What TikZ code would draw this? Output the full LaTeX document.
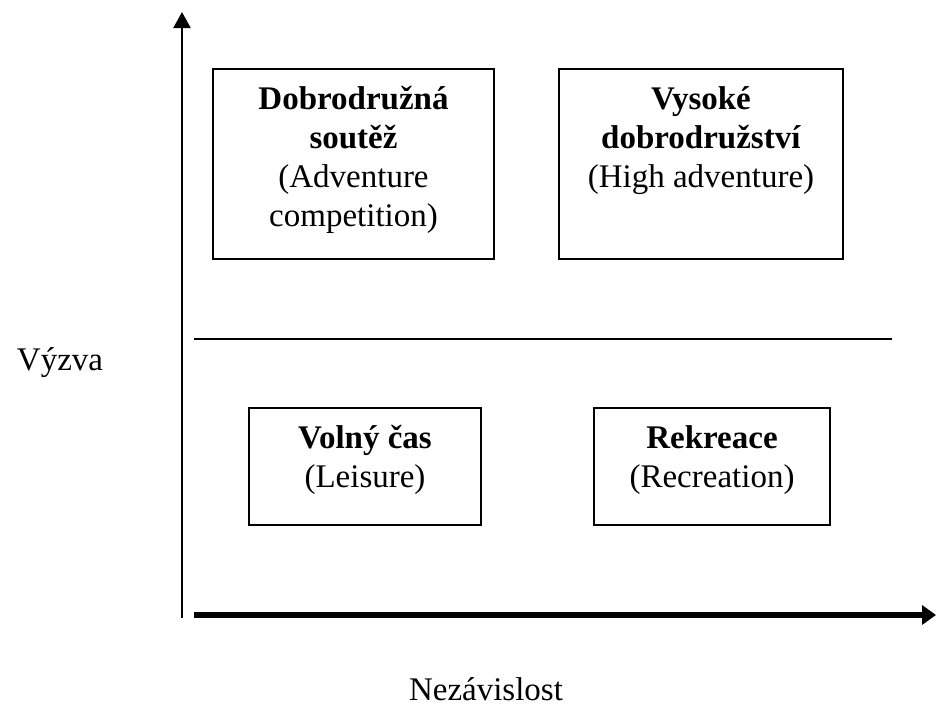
\documentclass[tikz,border=0pt]{standalone}
\usepackage{fontspec}
\setmainfont{Liberation Serif}
\usetikzlibrary{arrows.meta}
\begin{document}
\begin{tikzpicture}[x=1pt,y=-1pt,
  quad/.style={draw=black,line width=1.6pt,rectangle,inner sep=0pt},
  qtext/.style={anchor=north,align=center,inner sep=0pt,font=\fontsize{33}{39}\selectfont},
  axlabel/.style={anchor=base,inner sep=0pt,font=\fontsize{33}{39}\selectfont}]
\useasboundingbox (0,0) rectangle (936,713);
% boxes
\node[quad,minimum width=281pt,minimum height=190pt] (b1) at (353.5,164) {};
\node[quad,minimum width=284pt,minimum height=190pt] (b2) at (701,164) {};
\node[quad,minimum width=232pt,minimum height=117pt] (b3) at (365,466.5) {};
\node[quad,minimum width=236pt,minimum height=117pt] (b4) at (712,466.5) {};
% texts
\node[qtext] (t1) at ([yshift=-18pt]b1.north) {\textbf{Dobrodružná}\\\textbf{soutěž}\\(Adventure\\competition)};
\node[qtext] (t2) at ([yshift=-18pt]b2.north) {\textbf{Vysoké}\\\textbf{dobrodružství}\\(High adventure)};
\node[qtext] (t3) at ([yshift=-18pt]b3.north) {\textbf{Volný čas}\\(Leisure)};
\node[qtext] (t4) at ([yshift=-18pt]b4.north) {\textbf{Rekreace}\\(Recreation)};
% separator
\coordinate (sl) at (194,339);
\coordinate (sr) at (892,339);
\draw[line width=1.6pt] (sl) -- (sr);
% axes
\coordinate (yb) at (182,618);
\coordinate (yt) at (182,12);
\draw[line width=2pt,-{Triangle[length=16pt,width=17pt]}] (yb) -- (yt);
\coordinate (xl) at (194,615);
\coordinate (xr) at (936,615);
\draw[line width=6pt,-{Triangle[length=14pt,width=19pt]}] (xl) -- (xr);
% axis labels
\node[axlabel] (vy) at (60,370) {Výzva};
\node[axlabel] (nz) at (486,700) {Nezávislost};
\end{tikzpicture}
\end{document}
